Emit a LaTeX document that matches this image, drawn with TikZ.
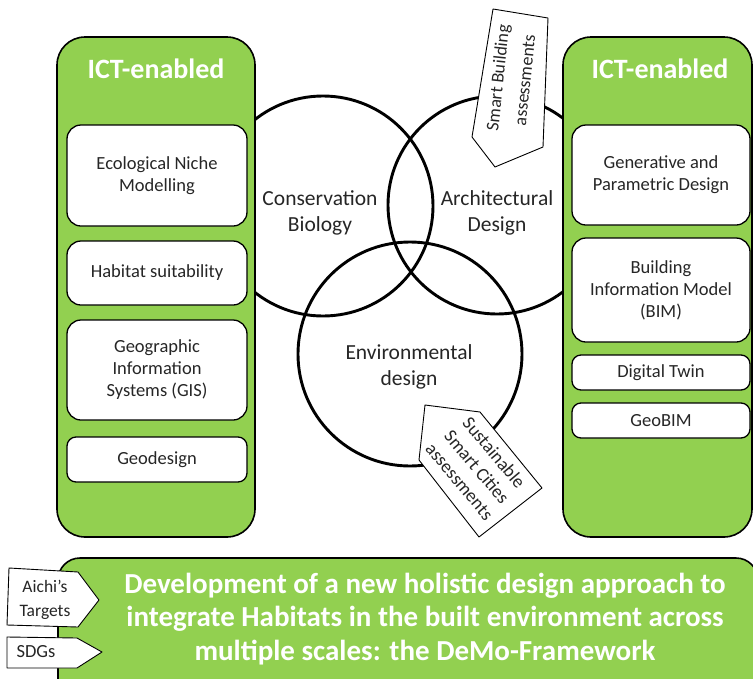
\documentclass[tikz,border=0pt]{standalone}
\usepackage{fontspec}
\setmainfont{Carlito}
\usetikzlibrary{shapes.geometric}
\definecolor{panelgreen}{HTML}{92D050}
\begin{document}
\begin{tikzpicture}[x=1pt,y=-1pt,
  panel/.style={draw=black, line width=1.6pt, fill=panelgreen, rounded corners=28pt, inner sep=0pt},
  toolbox/.style={draw=black, line width=1.3pt, fill=white, rounded corners=14pt, align=center,
    font=\fontsize{18.5}{22}\selectfont, inner sep=0pt, text=black!85},
  smallbox/.style={toolbox, rounded corners=9pt},
  venn/.style={draw=black, line width=2.9pt, circle, inner sep=0pt},
  venntext/.style={align=center, font=\fontsize{21.5}{26}\selectfont, text=black!85},
  paneltitle/.style={text=white, font=\bfseries\fontsize{28}{32}\selectfont},
  tagshape/.style={draw=black, line width=0.9pt, fill=white, line join=round},
  tagtext/.style={align=center, font=\fontsize{18}{22}\selectfont, text=black!85, inner sep=0pt},
  bigtext/.style={align=center, text=white, font=\bfseries\fontsize{29}{33.5}\selectfont},
]
\useasboundingbox (0,0) rectangle (753,678);

% Venn circles
\node[venn, minimum size=220pt] (cons) at (323,206) {};
\node[venn, minimum size=218pt] (arch) at (497,205) {};
\node[venn, minimum size=224pt] (env) at (410,354) {};
\node[venntext] (consT) at (320,213) {Conservation\\Biology};
\node[venntext] (archT) at (497,213) {Architectural\\Design};
\node[venntext] (envT) at (409,367) {Environmental\\design};

% Left panel
\node[panel, minimum width=198pt, minimum height=500pt] (lp) at (156,287) {};
\node[paneltitle] (lpT) at (156,69) {ICT-enabled};
\node[toolbox, minimum width=180pt, minimum height=101pt] (l1) at (157,175.5) {Ecological Niche\\Modelling};
\node[toolbox, minimum width=180pt, minimum height=64pt] (l2) at (157,273) {Habitat suitability};
\node[toolbox, minimum width=180pt, minimum height=100pt] (l3) at (157,370) {Geographic\\Information\\Systems (GIS)};
\node[smallbox, minimum width=180pt, minimum height=45pt] (l4) at (157,459.5) {Geodesign};

% Right panel
\node[panel, minimum width=189pt, minimum height=500pt] (rp) at (657.5,287) {};
\node[paneltitle] (rpT) at (660,69) {ICT-enabled};
\node[toolbox, minimum width=178pt, minimum height=100pt] (r1) at (661,175) {Generative and\\Parametric Design};
\node[toolbox, minimum width=178pt, minimum height=104pt] (r2) at (661,290) {Building\\Information Model\\(BIM)};
\node[smallbox, minimum width=178pt, minimum height=35pt] (r3) at (661,372.5) {Digital Twin};
\node[smallbox, minimum width=178pt, minimum height=35pt] (r4) at (661,420.5) {GeoBIM};

% Bottom panel
\draw[panel, rounded corners=22pt] (58,558) rectangle (758,705);
\node[bigtext] (goal) at (425,619) {Development of a new holistic design approach to\\integrate Habitats in the built environment across\\multiple scales: the DeMo-Framework};

% Tags
\draw[tagshape] (493,9) -- (548,18) -- (543,147) -- (495,167) -- (472,137) -- cycle;
\node[tagtext, rotate=84, font=\fontsize{18}{27}\selectfont] (smartB) at (511,79) {Smart Building\\assessments};

\draw[tagshape] (425,405) -- (480,412) -- (542,488) -- (479,537) -- (419,460) -- cycle;
\node[tagtext, rotate=-50, font=\fontsize{18.5}{22.5}\selectfont] (smartC) at (477,467) {Sustainable\\Smart Cities\\assessments};

\draw[tagshape] (9,568) -- (78,572) -- (99,600) -- (78,627) -- (7,625) -- cycle;
\node[tagtext, font=\fontsize{17.5}{24}\selectfont] (aichi) at (45,600) {Aichi’s\\Targets};

\draw[tagshape] (7,637) -- (77,638) -- (102,652) -- (77,668) -- (7,668) -- cycle;
\node[tagtext, font=\fontsize{18.5}{22}\selectfont] (sdg) at (36,652) {SDGs};
\end{tikzpicture}
\end{document}
